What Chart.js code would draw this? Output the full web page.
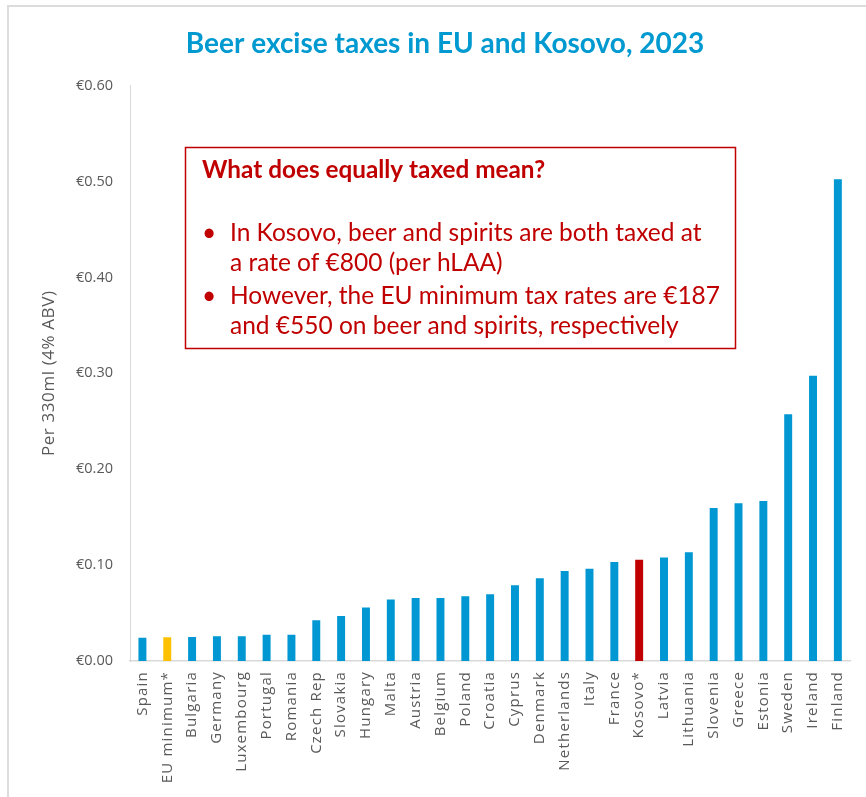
<!DOCTYPE html>
<html>
<head>
<meta charset="utf-8">
<script src="https://cdn.jsdelivr.net/npm/chart.js@4/dist/chart.umd.min.js"></script>
<style>
  html, body { margin: 0; padding: 0; background: #ffffff; overflow: hidden; }
  #wrap { position: relative; width: 866px; height: 797px; }
  #frame { position: absolute; left: 7px; top: 5px; width: 900px; height: 900px;
           border: 2px solid #dcdcdc; box-sizing: border-box; pointer-events: none; }
  canvas { position: absolute; left: 0; top: 0; }
</style>
</head>
<body>
<div id="wrap">
  <canvas id="chart" width="866" height="797"></canvas>
  <div id="frame"></div>
</div>
<script>
// Beer excise per 330ml can at 4% ABV, 2023
const categories = [
  'Spain', 'EU minimum*', 'Bulgaria', 'Germany', 'Luxembourg', 'Portugal', 'Romania',
  'Czech Rep', 'Slovakia', 'Hungary', 'Malta', 'Austria', 'Belgium', 'Poland', 'Croatia',
  'Cyprus', 'Denmark', 'Netherlands', 'Italy', 'France', 'Kosovo*', 'Latvia', 'Lithuania',
  'Slovenia', 'Greece', 'Estonia', 'Sweden', 'Ireland', 'Finland'
];
const taxPer330ml = [
  0.0243, 0.0247, 0.0251, 0.0257, 0.0257, 0.0275, 0.0275,
  0.0424, 0.0470, 0.0557, 0.0640, 0.0657, 0.0657, 0.0675, 0.0696,
  0.0790, 0.0863, 0.0939, 0.0963, 0.1033, 0.1056, 0.1078, 0.1134,
  0.1595, 0.1645, 0.1668, 0.2574, 0.2974, 0.5023
];
const yTicks = [0, 0.1, 0.2, 0.3, 0.4, 0.5, 0.6];

const titleText = 'Beer excise taxes in EU and Kosovo, 2023';
const yAxisTitle = 'Per 330ml (4% ABV)';
const noteHeading = 'What does equally taxed mean?';
const noteBullets = [
  ['In Kosovo, beer and spirits are both taxed at', 'a rate of €800 (per hLAA)'],
  ['However, the EU minimum tax rates are €187', 'and €550 on beer and spirits, respectively']
];

const BLUE = '#0097d2', RED = '#c00000', GOLD = '#ffc000', GREY = '#595959', AXIS = '#d9d9d9';
const barColors = categories.map(c => c === 'Kosovo*' ? RED : (c === 'EU minimum*' ? GOLD : BLUE));

// Explanatory callout box drawn on top of the plot
const noteBox = {
  id: 'noteBox',
  afterDraw(chart) {
    const ctx = chart.ctx;
    ctx.save();
    ctx.fillStyle = '#ffffff';
    ctx.fillRect(185, 147, 551, 202);
    ctx.strokeStyle = RED;
    ctx.lineWidth = 1.5;
    ctx.strokeRect(185.5, 147.5, 550, 201);
    ctx.fillStyle = RED;
    ctx.textBaseline = 'middle';
    ctx.textAlign = 'left';
    ctx.font = 'bold 24.3px Lato';
    ctx.fillText(noteHeading, 202, 170);
    ctx.font = '24.5px Lato';
    const rows = [[233, 263], [296, 326]];
    noteBullets.forEach((lines, i) => {
      ctx.fillText('•', 202, rows[i][0]);
      lines.forEach((t, j) => ctx.fillText(t, 230, rows[i][j]));
    });
    ctx.restore();
  }
};

// Wraps a scale drawing method so its text is drawn with extra tracking
function tracked(scale, method, spacing) {
  const orig = scale[method].bind(scale);
  scale[method] = function (area) {
    const ctx = this.ctx;
    ctx.save();
    ctx.letterSpacing = spacing;
    orig(area);
    ctx.restore();
  };
}

const spacedText = {
  id: 'spacedText',
  beforeDraw(chart) {
    const { x, y } = chart.scales;
    if (x && !x._tracked) { tracked(x, 'drawLabels', '1.2px'); x._tracked = true; }
    if (y && !y._tracked) { tracked(y, 'drawTitle', '0.6px'); y._tracked = true; }
  }
};

new Chart(document.getElementById('chart'), {
  type: 'bar',
  data: {
    labels: categories,
    datasets: [{
      data: taxPer330ml,
      backgroundColor: barColors,
      borderWidth: 0,
      categoryPercentage: 1.0,
      barPercentage: 0.32
    }]
  },
  options: {
    responsive: false,
    animation: false,
    layout: { padding: { left: 32, right: 8, top: 0, bottom: 0 } },
    plugins: {
      legend: { display: false },
      tooltip: { enabled: false },
      title: {
        display: true,
        text: titleText,
        color: '#0099d0',
        font: { family: 'Lato', size: 28, weight: 'bold' },
        padding: { top: 27, bottom: 25 }
      }
    },
    scales: {
      x: {
        grid: { display: false, drawTicks: false },
        border: { display: true, color: AXIS, width: 1.5 },
        ticks: {
          autoSkip: false, minRotation: 90, maxRotation: 90,
          padding: 10, color: GREY,
          font: { family: 'Open Sans', size: 15 }
        },
        afterFit(scale) { scale.height = 136; }
      },
      y: {
        min: 0, max: 0.6,
        afterBuildTicks(scale) { scale.ticks = yTicks.map(v => ({ value: v })); },
        grid: { display: false, drawTicks: false },
        border: { display: true, color: AXIS, width: 1 },
        ticks: {
          padding: 17, color: GREY,
          font: { family: 'Open Sans', size: 14.5 },
          callback: v => '€' + Number(v).toFixed(2)
        },
        title: {
          display: true, text: yAxisTitle, color: GREY,
          font: { family: 'Open Sans', size: 17 },
          padding: { top: 7, bottom: 0 }
        },
        afterFit(scale) { scale.width = 98; }
      }
    }
  },
  plugins: [spacedText, noteBox]
});
</script>
</body>
</html>
